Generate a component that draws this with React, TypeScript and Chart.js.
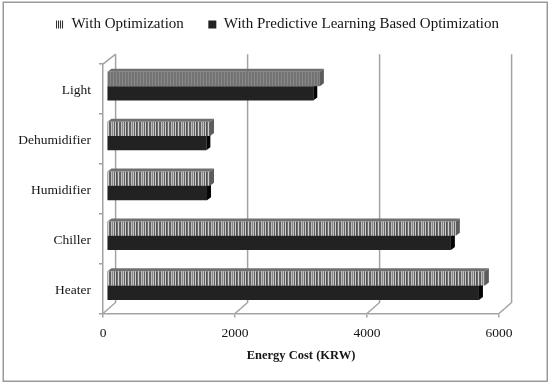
import React, { useEffect, useRef } from "react";
import { Chart, registerables } from "chart.js";

Chart.register(...registerables);

const categories = ["Light", "Dehumidifier", "Humidifier", "Chiller", "Heater"];
const withOptimization = [3230, 1565, 1565, 5290, 5730];
const withPredictive = [3130, 1510, 1520, 5215, 5640];
const seriesNames = ["With Optimization", "With Predictive Learning Based Optimization"];
const valueTicks = [0, 2000, 4000, 6000];
const axisTitle = "Energy Cost (KRW)";

const SERIF = "'Liberation Serif', serif";
const GRID = "#a3a3a3";
const DARK = "#222222";
const TEXT = "#151515";
const DEPTH_X = 12.6;
const DEPTH_Y = 11;
const BAR_DX = 3.7;
const BAR_DY = 3;

function stripes(cols: string[]) {
  const c = document.createElement("canvas");
  c.width = cols.length;
  c.height = 4;
  const g = c.getContext("2d")!;
  cols.forEach((col, i) => {
    g.fillStyle = col;
    g.fillRect(i, 0, 1, 4);
  });
  return g.createPattern(c, "repeat")!;
}

const frame3d = {
  id: "frame3d",
  beforeDatasetsDraw(chart: any) {
    const { ctx, chartArea: a, scales } = chart;
    const x = scales.x;
    ctx.save();
    ctx.strokeStyle = GRID;
    ctx.lineWidth = 1.5;
    for (const v of valueTicks) {
      const px = x.getPixelForValue(v);
      ctx.beginPath();
      ctx.moveTo(px, a.bottom);
      ctx.lineTo(px + DEPTH_X, a.bottom - DEPTH_Y);
      ctx.lineTo(px + DEPTH_X, a.top - 10);
      ctx.stroke();
    }
    ctx.beginPath();
    ctx.moveTo(a.left, a.top);
    ctx.lineTo(a.left + DEPTH_X, a.top - 10);
    ctx.stroke();
    ctx.restore();
    ctx.save();
    ctx.translate(BAR_DX, -BAR_DY);
  },
  afterDatasetDraw(chart: any, args: any) {
    const { ctx } = chart;
    const meta = args.meta;
    const isDark = args.index === 1;
    ctx.save();
    for (const bar of meta.data) {
      const h = bar.height;
      const top = bar.y - h / 2;
      const bottom = bar.y + h / 2;
      const l = bar.base;
      const r = bar.x;
      const dx = 4;
      const dy = 3;
      ctx.fillStyle = isDark ? "#1c1c1c" : "#6f6f6f";
      ctx.beginPath();
      ctx.moveTo(l, top);
      ctx.lineTo(l + dx, top - dy);
      ctx.lineTo(r + dx, top - dy);
      ctx.lineTo(r, top);
      ctx.closePath();
      ctx.fill();
      ctx.fillStyle = isDark ? "#050505" : "#5c5c5c";
      ctx.beginPath();
      ctx.moveTo(r, top);
      ctx.lineTo(r + dx, top - dy);
      ctx.lineTo(r + dx, bottom - dy);
      ctx.lineTo(r, bottom);
      ctx.closePath();
      ctx.fill();
    }
    ctx.restore();
  },
  afterDatasetsDraw(chart: any) {
    chart.ctx.restore();
  },
  afterDraw(chart: any) {
    const { ctx } = chart;
    ctx.save();
    ctx.strokeStyle = "#9a9a9a";
    ctx.lineWidth = 1.5;
    ctx.strokeRect(3.25, 2.25, 544, 379);
    ctx.restore();
  },
};

export default function App() {
  const ref = useRef<HTMLCanvasElement>(null);
  useEffect(() => {
    const coarse = stripes(["#333", "#f4f4f4", "#555", "#444", "#eee", "#777", "#333", "#ddd", "#666", "#f0f0f0"]);
    const fine = stripes(["#6c6c6c", "#8e8e8e", "#757575"]);
    const swatch = stripes(["#333", "#f4f4f4"]);
    const optFill = categories.map((c) => (c === "Light" ? fine : coarse));
    const chart = new Chart(ref.current!, {
      type: "bar",
      plugins: [frame3d],
      data: {
        labels: categories,
        datasets: [
          { label: seriesNames[0], data: withOptimization, backgroundColor: optFill },
          { label: seriesNames[1], data: withPredictive, backgroundColor: DARK },
        ],
      },
      options: {
        indexAxis: "y",
        animation: false,
        responsive: false,
        categoryPercentage: 0.574,
        barPercentage: 1,
        layout: { padding: { left: 5, right: 0, top: -7.5, bottom: 0 } },
        plugins: {
          tooltip: { enabled: false },
          title: {
            display: true,
            text: "",
            weight: 500,
            font: { size: 1 },
            padding: { top: 21, bottom: 0 },
          },
          legend: {
            position: "top",
            align: "center",
            weight: 3000,
            labels: {
              color: TEXT,
              boxWidth: 8,
              boxHeight: 8,
              padding: 24.5,
              font: { family: SERIF, size: 15 },
              generateLabels: (c: any) =>
                Chart.defaults.plugins.legend.labels.generateLabels(c).map((it: any, i: number) => ({
                  ...it,
                  fillStyle: i === 0 ? swatch : DARK,
                  lineWidth: 0,
                })),
            },
          },
        },
        scales: {
          x: {
            min: 0,
            max: 6000,
            ticks: {
              stepSize: 2000,
              color: TEXT,
              padding: 8,
              maxRotation: 0,
              font: { family: SERIF, size: 13.5 },
              callback: (v: any) => String(v),
            },
            grid: { drawOnChartArea: false, color: GRID, lineWidth: 1.5, tickLength: 4 },
            border: { color: GRID, width: 1.5 },
            title: {
              display: true,
              text: axisTitle,
              color: TEXT,
              font: { family: SERIF, size: 12.5, weight: "bold" },
              padding: { top: 6, bottom: 21.5 },
            },
            afterFit: (s: any) => {
              s.height = 385 - 313.5;
            },
          },
          y: {
            ticks: { color: TEXT, padding: 8, labelOffset: 1.5, font: { family: SERIF, size: 13.5 } },
            grid: { drawOnChartArea: false, color: GRID, lineWidth: 1.5, tickLength: 4 },
            border: { color: GRID, width: 1.5 },
            afterFit: (s: any) => {
              s.width = 98;
            },
          },
          rightGutter: {
            axis: "y",
            type: "linear",
            position: "right",
            ticks: { display: false },
            grid: { display: false },
            border: { display: false },
            afterFit: (s: any) => {
              s.width = 51;
            },
          },
        },
      } as any,
    });
    return () => chart.destroy();
  }, []);
  return (
    <canvas
      ref={ref}
      width={550}
      height={385}
      style={{ position: "absolute", left: 0, top: 0, width: 550, height: 385, background: "#fff", filter: "blur(0.3px)" }}
    />
  );
}
